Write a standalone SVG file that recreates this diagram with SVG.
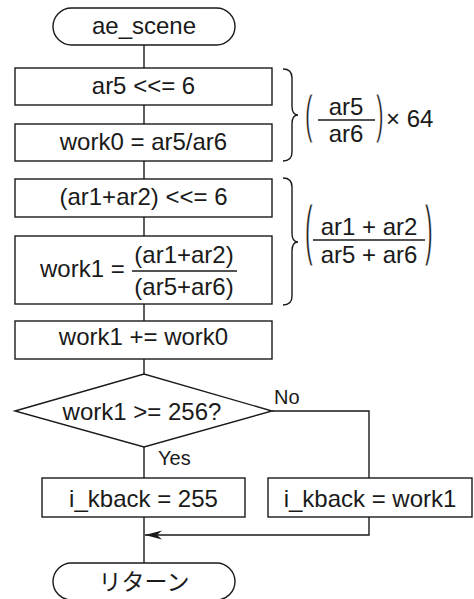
<svg xmlns="http://www.w3.org/2000/svg" width="474" height="599" viewBox="0 0 474 599">
<defs>
<style>
.s{fill:#fff;stroke:#1a1a1a;stroke-width:1.4}
.l{fill:none;stroke:#1a1a1a;stroke-width:1.4}
.t{font-family:"Liberation Sans",Arial,Helvetica,sans-serif;font-size:24px;fill:#1a1a1a}
.c{text-anchor:middle}
.j{font-family:"Liberation Sans","Noto Sans CJK JP",sans-serif;font-size:23px}
.sm{font-size:20px}
.p{font-family:"Liberation Sans",Arial,sans-serif;font-size:23px;fill:#1a1a1a;stroke:#fff;stroke-width:0.6;vector-effect:non-scaling-stroke}
</style>
<marker id="arr" markerWidth="18" markerHeight="10" refX="17" refY="5" orient="auto" markerUnits="userSpaceOnUse">
<path d="M17,5 L0,0.5 L5,5 L0,9.5 Z" fill="#1a1a1a"/>
</marker>
</defs>
<g id="connectors">
<path class="l" d="M144,45V68M144,105V124M144,161V179M144,217V236M144,304V321M144,359V374M144,447V478M144,517V563"/>
<path class="l" d="M272,411H369V478"/>
<path class="l" d="M369,517V535H145" marker-end="url(#arr)"/>
<text class="t sm" x="274" y="404">No</text>
<text class="t sm" x="158" y="465">Yes</text>
</g>
<g id="start">
<rect class="s" x="53" y="8" width="182" height="37" rx="18.5"/>
<text class="t c" x="144" y="34">ae_scene</text>
</g>
<g id="n1">
<rect class="s" x="15" y="68" width="257" height="37"/>
<text class="t c" x="143.5" y="94">ar5 &lt;&lt;= 6</text>
</g>
<g id="n2">
<rect class="s" x="15" y="124" width="257" height="37"/>
<text class="t c" x="143.5" y="150">work0 = ar5/ar6</text>
</g>
<g id="n3">
<rect class="s" x="15" y="179" width="257" height="38"/>
<text class="t c" x="143.5" y="205">(ar1+ar2) &lt;&lt;= 6</text>
</g>
<g id="n4">
<rect class="s" x="15" y="236" width="257" height="68"/>
<text class="t" x="40" y="277">work1 =</text>
<text class="t c" x="184" y="263">(ar1+ar2)</text>
<line class="l" x1="132" y1="271" x2="237" y2="271"/>
<text class="t c" x="184" y="295">(ar5+ar6)</text>
</g>
<g id="n5">
<rect class="s" x="15" y="321" width="257" height="38"/>
<text class="t c" x="143.5" y="345">work1 += work0</text>
</g>
<g id="decision">
<polygon class="s" points="15,411 144,374 272,411 144,447"/>
<text class="t c" x="142" y="420">work1 &gt;= 256?</text>
</g>
<g id="yes">
<rect class="s" x="42" y="478" width="203" height="39"/>
<text class="t c" x="143.5" y="507">i_kback = 255</text>
</g>
<g id="no">
<rect class="s" x="268" y="478" width="204" height="39"/>
<text class="t c" x="370" y="507">i_kback = work1</text>
</g>
<g id="end">
<rect class="s" x="53" y="563" width="182" height="37" rx="18.5"/>
<text class="t c j" x="144" y="590">リターン</text>
</g>
<g id="note1">
<path class="l" d="M283,69Q292,69 292,78V106Q292,115 298,115Q292,115 292,124V152Q292,161 283,161"/>
<text class="p" transform="translate(305,131.5) scale(1,2.25)">(</text>
<text class="t c" x="346" y="115">ar5</text>
<line class="l" x1="318" y1="120" x2="375" y2="120"/>
<text class="t c" x="346" y="142">ar6</text>
<text class="p" transform="translate(376,131.5) scale(1,2.25)">)</text>
<text class="t" x="386" y="127">× 64</text>
</g>
<g id="note2">
<path class="l" d="M283,178Q292,178 292,187V233Q292,242 298,242Q292,242 292,251V296Q292,305 283,305"/>
<text class="p" transform="translate(305,252) scale(1,2.9)">(</text>
<text class="t c" x="369" y="235">ar1 + ar2</text>
<line class="l" x1="313" y1="240" x2="425" y2="240"/>
<text class="t c" x="369" y="263">ar5 + ar6</text>
<text class="p" transform="translate(425,252) scale(1,2.9)">)</text>
</g>
</svg>
